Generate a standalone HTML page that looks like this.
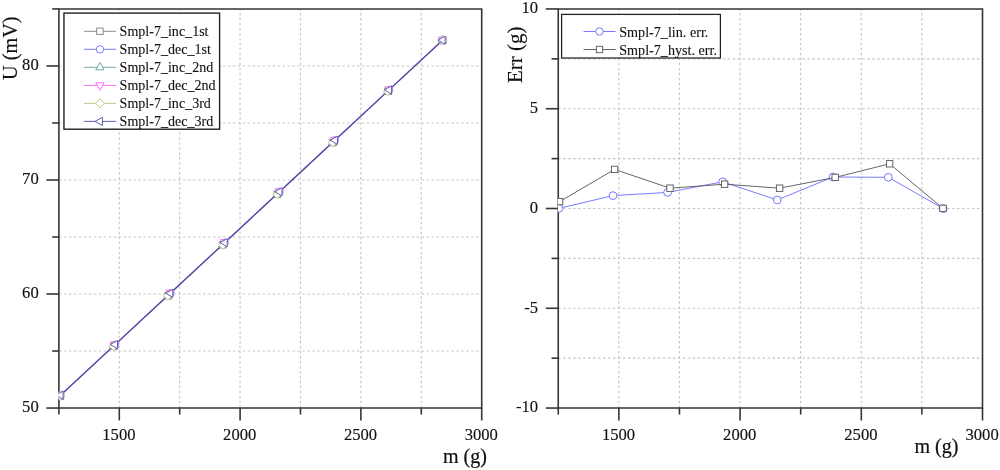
<!DOCTYPE html>
<html lang="en"><head><meta charset="utf-8"><title>Smpl-7 calibration plots</title>
<style>html,body{margin:0;padding:0;background:#fff}body{width:1000px;height:470px;overflow:hidden}svg{display:block}</style>
</head><body>
<svg width="1000" height="470" viewBox="0 0 1000 470" font-family='"Liberation Serif", serif' fill="#111">
<rect width="1000" height="470" fill="#fff"/>
<g stroke="#c6c6c6" stroke-width="1.15" stroke-dasharray="2.48 2.49" stroke-dashoffset="0.85" fill="none">
<path d="M119.25 8.95V408.05"/>
<path d="M179.65 8.95V408.05"/>
<path d="M240.05 8.95V408.05"/>
<path d="M300.45 8.95V408.05"/>
<path d="M360.85 8.95V408.05"/>
<path d="M421.25 8.95V408.05"/>
</g>
<g stroke="#c6c6c6" stroke-width="1.15" stroke-dasharray="2.483 2.483" stroke-dashoffset="4.84" fill="none">
<path d="M58.9 351.04H481.7"/>
<path d="M58.9 294.02H481.7"/>
<path d="M58.9 237.01H481.7"/>
<path d="M58.9 179.99H481.7"/>
<path d="M58.9 122.98H481.7"/>
<path d="M58.9 65.96H481.7"/>
</g>
<g stroke="#353535" stroke-width="1.6" fill="none" stroke-linecap="butt">
<path d="M58.9 8.15V408.85M481.7 8.15V408.85M58.9 8.95H481.7M58.9 408.05H481.7"/>
<path d="M119.30 408.05V420.45"/>
<path d="M240.10 408.05V420.45"/>
<path d="M360.90 408.05V420.45"/>
<path d="M481.70 408.05V420.45"/>
<path d="M58.90 408.05V414.55"/>
<path d="M179.70 408.05V414.55"/>
<path d="M300.50 408.05V414.55"/>
<path d="M421.30 408.05V414.55"/>
<path d="M46.40 408.05H58.9"/>
<path d="M46.40 294.02H58.9"/>
<path d="M46.40 179.99H58.9"/>
<path d="M46.40 65.96H58.9"/>
<path d="M52.20 351.04H58.9"/>
<path d="M52.20 237.01H58.9"/>
<path d="M52.20 122.98H58.9"/>
<path d="M52.20 8.95H58.9"/>
</g>
<g font-size="16.6" text-anchor="middle" stroke="#111" stroke-width="0.14">
<text x="118.9" y="440.15">1500</text>
<text x="239.7" y="440.15">2000</text>
<text x="360.5" y="440.15">2500</text>
<text x="481.3" y="440.15">3000</text>
</g>
<g font-size="16.6" text-anchor="end" stroke="#111" stroke-width="0.14">
<text x="38.7" y="412.4">50</text>
<text x="38.7" y="298.4">60</text>
<text x="38.7" y="184.4">70</text>
<text x="38.7" y="70.4">80</text>
</g>
<clipPath id="c1"><rect x="58.5" y="8.95" width="424.1" height="399.1"/></clipPath>
<g clip-path="url(#c1)">
<polyline points="60.15,396.02 113.60,346.35 168.01,295.78 222.85,244.81 277.25,194.25 332.85,142.58 387.95,91.37 442.65,40.53" fill="none" stroke="#808080" stroke-width="0.9"/>
<polyline points="60.60,395.37 115.05,344.76 170.30,293.41 224.70,242.85 279.50,191.92 334.90,140.43 389.10,90.06 442.60,40.34" fill="none" stroke="#6b6bff" stroke-width="0.9"/>
<polyline points="60.00,395.77 113.45,346.10 167.86,295.53 222.70,244.56 277.10,194.00 332.70,142.33 387.80,91.12 442.50,40.28" fill="none" stroke="#5fa5a5" stroke-width="0.9"/>
<polyline points="60.10,395.87 113.55,346.20 167.96,295.63 222.80,244.66 277.20,194.10 332.80,142.43 387.90,91.22 442.60,40.38" fill="none" stroke="#bfbf80" stroke-width="0.9"/>
<polyline points="60.30,394.90 114.75,344.29 170.00,292.94 224.40,242.38 279.20,191.45 334.60,139.96 388.80,89.59 442.30,39.87" fill="none" stroke="#ff5cff" stroke-width="0.85"/>
<polyline points="60.60,395.22 115.05,344.61 170.30,293.26 224.70,242.70 279.50,191.77 334.90,140.28 389.10,89.91 442.60,40.19" fill="none" stroke="#4d4da6" stroke-width="1.25"/>
<rect x="56.95" y="392.82" width="6.40" height="6.40" fill="#fff" stroke="#808080" stroke-width="0.9"/>
<rect x="110.40" y="343.15" width="6.40" height="6.40" fill="#fff" stroke="#808080" stroke-width="0.9"/>
<rect x="164.81" y="292.58" width="6.40" height="6.40" fill="#fff" stroke="#808080" stroke-width="0.9"/>
<rect x="219.65" y="241.61" width="6.40" height="6.40" fill="#fff" stroke="#808080" stroke-width="0.9"/>
<rect x="274.05" y="191.05" width="6.40" height="6.40" fill="#fff" stroke="#808080" stroke-width="0.9"/>
<rect x="329.65" y="139.38" width="6.40" height="6.40" fill="#fff" stroke="#808080" stroke-width="0.9"/>
<rect x="384.75" y="88.17" width="6.40" height="6.40" fill="#fff" stroke="#808080" stroke-width="0.9"/>
<rect x="439.45" y="37.33" width="6.40" height="6.40" fill="#fff" stroke="#808080" stroke-width="0.9"/>
<circle cx="60.60" cy="395.37" r="3.70" fill="#fff" stroke="#6b6bff" stroke-width="0.9"/>
<circle cx="115.05" cy="344.76" r="3.70" fill="#fff" stroke="#6b6bff" stroke-width="0.9"/>
<circle cx="170.30" cy="293.41" r="3.70" fill="#fff" stroke="#6b6bff" stroke-width="0.9"/>
<circle cx="224.70" cy="242.85" r="3.70" fill="#fff" stroke="#6b6bff" stroke-width="0.9"/>
<circle cx="279.50" cy="191.92" r="3.70" fill="#fff" stroke="#6b6bff" stroke-width="0.9"/>
<circle cx="334.90" cy="140.43" r="3.70" fill="#fff" stroke="#6b6bff" stroke-width="0.9"/>
<circle cx="389.10" cy="90.06" r="3.70" fill="#fff" stroke="#6b6bff" stroke-width="0.9"/>
<circle cx="442.60" cy="40.34" r="3.70" fill="#fff" stroke="#6b6bff" stroke-width="0.9"/>
<path d="M60.00 390.87L64.10 398.27H55.90Z" fill="#fff" stroke="#5fa5a5" stroke-width="0.9"/>
<path d="M113.45 341.20L117.55 348.60H109.35Z" fill="#fff" stroke="#5fa5a5" stroke-width="0.9"/>
<path d="M167.86 290.63L171.96 298.03H163.76Z" fill="#fff" stroke="#5fa5a5" stroke-width="0.9"/>
<path d="M222.70 239.66L226.80 247.06H218.60Z" fill="#fff" stroke="#5fa5a5" stroke-width="0.9"/>
<path d="M277.10 189.10L281.20 196.50H273.00Z" fill="#fff" stroke="#5fa5a5" stroke-width="0.9"/>
<path d="M332.70 137.43L336.80 144.83H328.60Z" fill="#fff" stroke="#5fa5a5" stroke-width="0.9"/>
<path d="M387.80 86.22L391.90 93.62H383.70Z" fill="#fff" stroke="#5fa5a5" stroke-width="0.9"/>
<path d="M442.50 35.38L446.60 42.78H438.40Z" fill="#fff" stroke="#5fa5a5" stroke-width="0.9"/>
<path d="M60.30 399.80L64.40 392.30H56.20Z" fill="#fff" stroke="#ff5cff" stroke-width="0.9"/>
<path d="M114.75 349.19L118.85 341.69H110.65Z" fill="#fff" stroke="#ff5cff" stroke-width="0.9"/>
<path d="M170.00 297.84L174.10 290.34H165.90Z" fill="#fff" stroke="#ff5cff" stroke-width="0.9"/>
<path d="M224.40 247.28L228.50 239.78H220.30Z" fill="#fff" stroke="#ff5cff" stroke-width="0.9"/>
<path d="M279.20 196.35L283.30 188.85H275.10Z" fill="#fff" stroke="#ff5cff" stroke-width="0.9"/>
<path d="M334.60 144.86L338.70 137.36H330.50Z" fill="#fff" stroke="#ff5cff" stroke-width="0.9"/>
<path d="M388.80 94.49L392.90 86.99H384.70Z" fill="#fff" stroke="#ff5cff" stroke-width="0.9"/>
<path d="M442.30 44.77L446.40 37.27H438.20Z" fill="#fff" stroke="#ff5cff" stroke-width="0.9"/>
<path d="M60.10 391.27L64.50 395.87L60.10 400.47L55.70 395.87Z" fill="#fff" stroke="#bfbf80" stroke-width="0.9"/>
<path d="M113.55 341.60L117.95 346.20L113.55 350.80L109.15 346.20Z" fill="#fff" stroke="#bfbf80" stroke-width="0.9"/>
<path d="M167.96 291.03L172.36 295.63L167.96 300.23L163.56 295.63Z" fill="#fff" stroke="#bfbf80" stroke-width="0.9"/>
<path d="M222.80 240.06L227.20 244.66L222.80 249.26L218.40 244.66Z" fill="#fff" stroke="#bfbf80" stroke-width="0.9"/>
<path d="M277.20 189.50L281.60 194.10L277.20 198.70L272.80 194.10Z" fill="#fff" stroke="#bfbf80" stroke-width="0.9"/>
<path d="M332.80 137.83L337.20 142.43L332.80 147.03L328.40 142.43Z" fill="#fff" stroke="#bfbf80" stroke-width="0.9"/>
<path d="M387.90 86.62L392.30 91.22L387.90 95.82L383.50 91.22Z" fill="#fff" stroke="#bfbf80" stroke-width="0.9"/>
<path d="M442.60 35.78L447.00 40.38L442.60 44.98L438.20 40.38Z" fill="#fff" stroke="#bfbf80" stroke-width="0.9"/>
<path d="M55.90 395.22L63.10 391.12V399.32Z" fill="#fff" stroke="#4d4da6" stroke-width="0.9"/>
<path d="M110.35 344.61L117.55 340.51V348.71Z" fill="#fff" stroke="#4d4da6" stroke-width="0.9"/>
<path d="M165.60 293.26L172.80 289.16V297.36Z" fill="#fff" stroke="#4d4da6" stroke-width="0.9"/>
<path d="M220.00 242.70L227.20 238.60V246.80Z" fill="#fff" stroke="#4d4da6" stroke-width="0.9"/>
<path d="M274.80 191.77L282.00 187.67V195.87Z" fill="#fff" stroke="#4d4da6" stroke-width="0.9"/>
<path d="M330.20 140.28L337.40 136.18V144.38Z" fill="#fff" stroke="#4d4da6" stroke-width="0.9"/>
<path d="M384.40 89.91L391.60 85.81V94.01Z" fill="#fff" stroke="#4d4da6" stroke-width="0.9"/>
<path d="M437.90 40.19L445.10 36.09V44.29Z" fill="#fff" stroke="#4d4da6" stroke-width="0.9"/>
</g>
<rect x="63.95" y="13.1" width="155.65" height="116.10" fill="#fff" stroke="#222" stroke-width="1.4"/>
<path d="M84 31.3H116" stroke="#808080" stroke-width="0.9" fill="none"/>
<rect x="96.70" y="28.10" width="6.40" height="6.40" fill="#fff" stroke="#808080" stroke-width="0.9"/>
<text transform="translate(119.6 36.3) scale(0.943 1)" font-size="14.9" stroke="#111" stroke-width="0.1">Smpl-7_inc_1st</text>
<path d="M84 49.3H116" stroke="#6b6bff" stroke-width="0.9" fill="none"/>
<circle cx="99.90" cy="49.32" r="3.70" fill="#fff" stroke="#6b6bff" stroke-width="0.9"/>
<text transform="translate(119.6 54.3) scale(0.943 1)" font-size="14.9" stroke="#111" stroke-width="0.1">Smpl-7_dec_1st</text>
<path d="M84 67.3H116" stroke="#5fa5a5" stroke-width="0.9" fill="none"/>
<path d="M99.90 62.44L104.00 69.84H95.80Z" fill="#fff" stroke="#5fa5a5" stroke-width="0.9"/>
<text transform="translate(119.6 72.3) scale(0.943 1)" font-size="14.9" stroke="#111" stroke-width="0.1">Smpl-7_inc_2nd</text>
<path d="M84 85.4H116" stroke="#ff5cff" stroke-width="0.9" fill="none"/>
<path d="M99.90 90.26L104.00 82.76H95.80Z" fill="#fff" stroke="#ff5cff" stroke-width="0.9"/>
<text transform="translate(119.6 90.4) scale(0.943 1)" font-size="14.9" stroke="#111" stroke-width="0.1">Smpl-7_dec_2nd</text>
<path d="M84 103.4H116" stroke="#bfbf80" stroke-width="0.9" fill="none"/>
<path d="M99.90 98.78L104.30 103.38L99.90 107.98L95.50 103.38Z" fill="#fff" stroke="#bfbf80" stroke-width="0.9"/>
<text transform="translate(119.6 108.4) scale(0.943 1)" font-size="14.9" stroke="#111" stroke-width="0.1">Smpl-7_inc_3rd</text>
<path d="M84 121.4H116" stroke="#4d4da6" stroke-width="0.9" fill="none"/>
<path d="M95.20 121.40L102.40 117.30V125.50Z" fill="#fff" stroke="#4d4da6" stroke-width="0.9"/>
<text transform="translate(119.6 126.4) scale(0.943 1)" font-size="14.9" stroke="#111" stroke-width="0.1">Smpl-7_dec_3rd</text>
<text transform="translate(17.2 80) rotate(-90)" font-size="21.5" textLength="63.6" lengthAdjust="spacingAndGlyphs" stroke="#111" stroke-width="0.15">U (mV)</text>
<text x="443" y="463" font-size="21" textLength="44" lengthAdjust="spacingAndGlyphs" stroke="#111" stroke-width="0.22">m (g)</text>
<g stroke="#c6c6c6" stroke-width="1.15" stroke-dasharray="2.48 2.49" stroke-dashoffset="0.85" fill="none">
<path d="M618.81 8.95V408.05"/>
<path d="M679.41 8.95V408.05"/>
<path d="M740.02 8.95V408.05"/>
<path d="M800.63 8.95V408.05"/>
<path d="M861.24 8.95V408.05"/>
<path d="M921.84 8.95V408.05"/>
</g>
<g stroke="#c6c6c6" stroke-width="1.15" stroke-dasharray="2.493 2.493" stroke-dashoffset="0.12" fill="none">
<path d="M558.25 358.16H982.5"/>
<path d="M558.25 308.27H982.5"/>
<path d="M558.25 258.39H982.5"/>
<path d="M558.25 208.50H982.5"/>
<path d="M558.25 158.61H982.5"/>
<path d="M558.25 108.73H982.5"/>
<path d="M558.25 58.84H982.5"/>
</g>
<g stroke="#353535" stroke-width="1.6" fill="none" stroke-linecap="butt">
<path d="M558.25 8.15V408.85M982.5 8.15V408.85M558.25 8.95H982.5M558.25 408.05H982.5"/>
<path d="M618.86 408.05V420.45"/>
<path d="M740.07 408.05V420.45"/>
<path d="M861.29 408.05V420.45"/>
<path d="M982.50 408.05V420.45"/>
<path d="M558.25 408.05V414.55"/>
<path d="M679.46 408.05V414.55"/>
<path d="M800.68 408.05V414.55"/>
<path d="M921.89 408.05V414.55"/>
<path d="M545.75 408.05H558.25"/>
<path d="M545.75 308.27H558.25"/>
<path d="M545.75 208.50H558.25"/>
<path d="M545.75 108.73H558.25"/>
<path d="M545.75 8.95H558.25"/>
<path d="M551.55 358.16H558.25"/>
<path d="M551.55 258.39H558.25"/>
<path d="M551.55 158.61H558.25"/>
<path d="M551.55 58.84H558.25"/>
</g>
<g font-size="16.6" text-anchor="middle" stroke="#111" stroke-width="0.14">
<text x="618.5" y="440.15">1500</text>
<text x="739.7" y="440.15">2000</text>
<text x="860.9" y="440.15">2500</text>
<text x="982.1" y="440.15">3000</text>
</g>
<g font-size="16.6" text-anchor="end" stroke="#111" stroke-width="0.14">
<text x="538.0" y="412.4">-10</text>
<text x="538.0" y="312.7">-5</text>
<text x="538.0" y="212.9">0</text>
<text x="538.0" y="113.1">5</text>
<text x="538.0" y="13.3">10</text>
</g>
<clipPath id="c2"><rect x="557.85" y="8.95" width="425.55" height="399.1"/></clipPath>
<g clip-path="url(#c2)">
<polyline points="558.9,208.4 613,195.6 667.6,192.4 722.6,181.8 777.2,200 833,177 888.3,177.3 943.2,208.6" fill="none" stroke="#6b6bff" stroke-width="0.9"/>
<circle cx="558.90" cy="208.40" r="3.89" fill="#fff" stroke="#6b6bff" stroke-width="0.9"/>
<circle cx="613.00" cy="195.60" r="3.89" fill="#fff" stroke="#6b6bff" stroke-width="0.9"/>
<circle cx="667.60" cy="192.40" r="3.89" fill="#fff" stroke="#6b6bff" stroke-width="0.9"/>
<circle cx="722.60" cy="181.80" r="3.89" fill="#fff" stroke="#6b6bff" stroke-width="0.9"/>
<circle cx="777.20" cy="200.00" r="3.89" fill="#fff" stroke="#6b6bff" stroke-width="0.9"/>
<circle cx="833.00" cy="177.00" r="3.89" fill="#fff" stroke="#6b6bff" stroke-width="0.9"/>
<circle cx="888.30" cy="177.30" r="3.89" fill="#fff" stroke="#6b6bff" stroke-width="0.9"/>
<circle cx="943.20" cy="208.60" r="3.89" fill="#fff" stroke="#6b6bff" stroke-width="0.9"/>
<polyline points="559.6,201.6 614.6,169.4 670,188.2 724.6,184.2 779.6,188.2 835.2,177.4 889.6,163.8 943,208.4" fill="none" stroke="#555" stroke-width="0.9"/>
<rect x="556.40" y="198.40" width="6.40" height="6.40" fill="#fff" stroke="#555" stroke-width="0.9"/>
<rect x="611.40" y="166.20" width="6.40" height="6.40" fill="#fff" stroke="#555" stroke-width="0.9"/>
<rect x="666.80" y="185.00" width="6.40" height="6.40" fill="#fff" stroke="#555" stroke-width="0.9"/>
<rect x="721.40" y="181.00" width="6.40" height="6.40" fill="#fff" stroke="#555" stroke-width="0.9"/>
<rect x="776.40" y="185.00" width="6.40" height="6.40" fill="#fff" stroke="#555" stroke-width="0.9"/>
<rect x="832.00" y="174.20" width="6.40" height="6.40" fill="#fff" stroke="#555" stroke-width="0.9"/>
<rect x="886.40" y="160.60" width="6.40" height="6.40" fill="#fff" stroke="#555" stroke-width="0.9"/>
<rect x="939.80" y="205.20" width="6.40" height="6.40" fill="#fff" stroke="#555" stroke-width="0.9"/>
</g>
<rect x="561.6" y="14.4" width="158.80" height="43.60" fill="#fff" stroke="#222" stroke-width="1.25"/>
<path d="M583.6 31.5H615.6" stroke="#6b6bff" stroke-width="0.9" fill="none"/>
<circle cx="599.50" cy="31.50" r="3.70" fill="#fff" stroke="#6b6bff" stroke-width="0.9"/>
<text transform="translate(619.2 36.5) scale(0.951 1)" font-size="14.9" stroke="#111" stroke-width="0.1">Smpl-7_lin. err.</text>
<path d="M583.6 49.5H615.6" stroke="#555" stroke-width="0.9" fill="none"/>
<rect x="596.30" y="46.30" width="6.40" height="6.40" fill="#fff" stroke="#555" stroke-width="0.9"/>
<text transform="translate(619.2 54.5) scale(0.951 1)" font-size="14.9" stroke="#111" stroke-width="0.1">Smpl-7_hyst. err.</text>
<text transform="translate(522 83) rotate(-90)" font-size="21" textLength="56.5" lengthAdjust="spacingAndGlyphs" stroke="#111" stroke-width="0.15">Err (g)</text>
<text x="914.4" y="453" font-size="21" textLength="44" lengthAdjust="spacingAndGlyphs" stroke="#111" stroke-width="0.22">m (g)</text>
</svg>
</body></html>
